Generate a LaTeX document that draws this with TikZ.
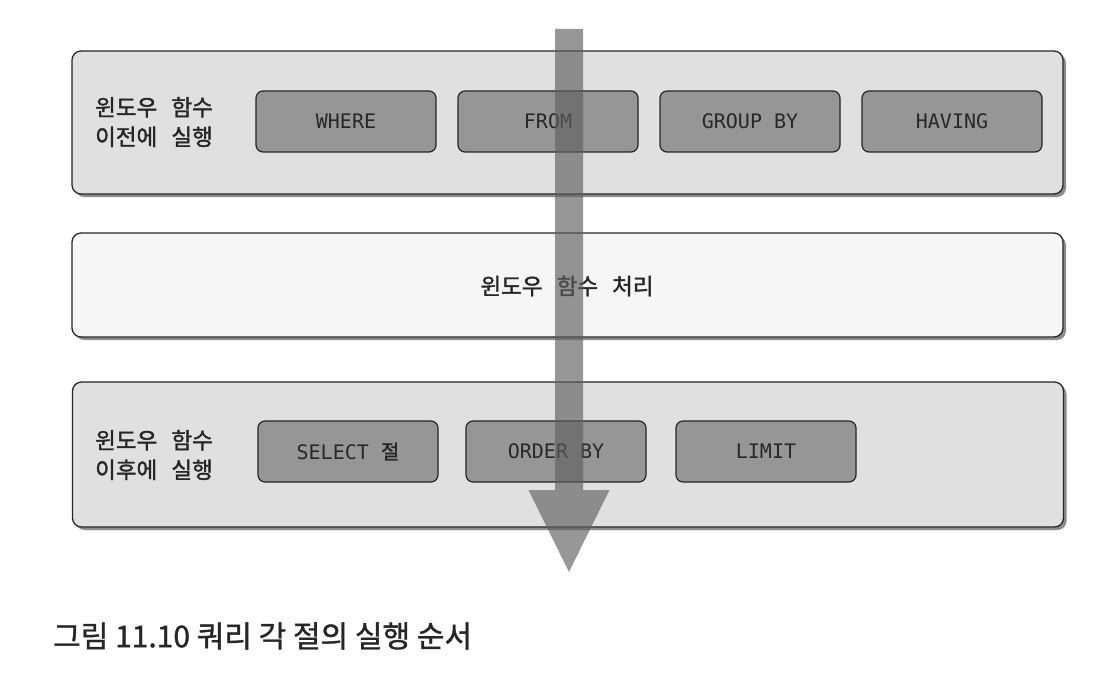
\documentclass[tikz,border=0pt]{standalone}
\usepackage{fontspec}
\setmainfont[FakeBold=1.2]{Noto Sans CJK KR}
\newfontfamily\kr[WordSpace=2.8, FakeBold=1.6]{Noto Sans CJK KR}
\newfontfamily\mono{DejaVu Sans Mono}
\usetikzlibrary{shadows,arrows.meta}
\definecolor{panelgray}{RGB}{224,224,224}
\definecolor{panelwhite}{RGB}{246,246,246}
\definecolor{clausegray}{RGB}{150,150,150}
\definecolor{flowgray}{RGB}{95,95,95}
\definecolor{inkgray}{RGB}{40,40,40}

\begin{document}
\begin{tikzpicture}[x=1pt,y=-1pt]
        \tikzstyle{panel}=[rectangle, rounded corners=9pt, draw=black!85, line width=1.3pt, fill=panelgray, minimum width=991pt, drop shadow={shadow xshift=3pt, shadow yshift=-3pt, fill=black, opacity=0.45}]
        \tikzstyle{clause}=[rectangle, rounded corners=7pt, draw=black!85, line width=1.2pt, fill=clausegray, minimum width=180pt, minimum height=61pt, text=inkgray, font=\mono\fontsize{20}{24}\selectfont]
        \tikzstyle{stage}=[anchor=west, align=left, text=black!85, inner sep=0pt, font=\kr\fontsize{22.5}{29.5}\selectfont]
        \tikzstyle{flow}=[line width=28pt, flowgray, -{Triangle[length=82pt, width=81pt, line width=0pt]}]
        \useasboundingbox (0,0) rectangle (1114,698);

        \node[panel, minimum height=143pt] (before) at (567.5,122.5) {};
        \node[panel, minimum height=104pt, fill=panelwhite] (window) at (567.5,285) {};
        \node[panel, minimum height=145pt] (after) at (568,454.5) {};

        \node[stage] (beforelabel) at (95,122) {윈도우 함수\\이전에 실행};
        \node[stage] (afterlabel) at (95,455) {윈도우 함수\\이후에 실행};
        \node[stage, anchor=center] (windowlabel) at (567,286) {윈도우 함수 처리};

        \node[clause] (where)   at (346,121.5) {WHERE};
        \node[clause] (from)    at (548,121.5) {FROM};
        \node[clause] (groupby) at (750,121.5) {GROUP BY};
        \node[clause] (having)  at (952,121.5) {HAVING};

        \node[clause] (select)  at (348,451.5) {SELECT {\kr 절}};
        \node[clause] (orderby) at (556,451.5) {ORDER BY};
        \node[clause] (limit)   at (766,451.5) {LIMIT};

        \coordinate (flowstart) at (569,29);
        \coordinate (flowend) at (569,572);
        \begin{scope}[transparency group, opacity=0.65]
            \draw[flow] (flowstart) -- (flowend);
        \end{scope}

        \node[anchor=west, inner sep=0pt, text=black!85, font=\fontsize{30}{36}\selectfont] (caption) at (53,636) {그림 11.10 쿼리 각 절의 실행 순서};
\end{tikzpicture}
\end{document}
